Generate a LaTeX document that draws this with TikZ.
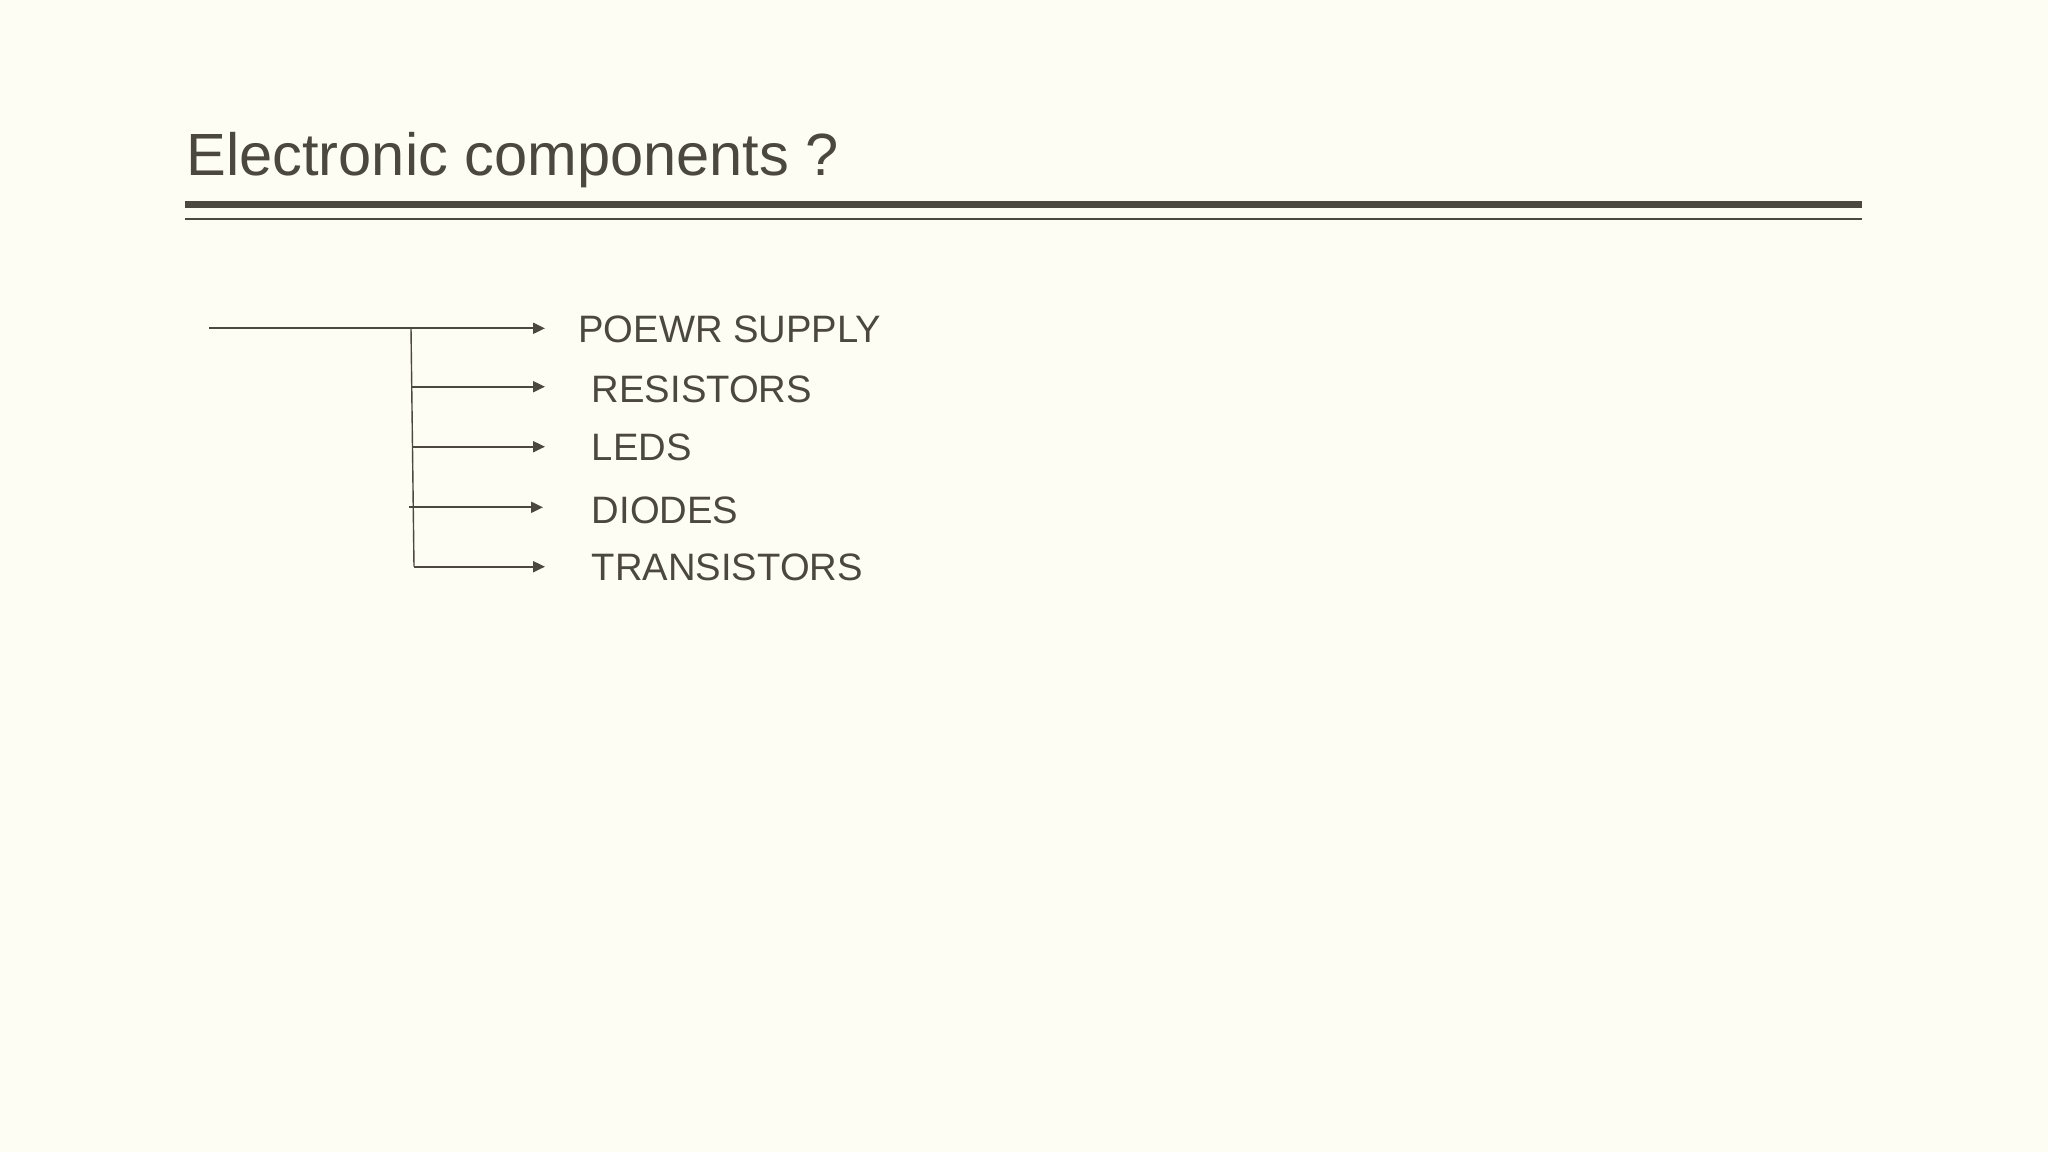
\documentclass[tikz,border=0pt]{standalone}
\usepackage{fontspec}
\setmainfont{Liberation Sans}
\usetikzlibrary{arrows.meta}
\definecolor{bgc}{RGB}{254,253,244}
\definecolor{ink}{RGB}{75,72,64}
\begin{document}
\begin{tikzpicture}[x=0.5pt,y=-0.5pt,
  item/.style={anchor=base west,inner sep=0pt,text=ink,font=\fontsize{19.1pt}{23pt}\selectfont},
  branch/.style={draw=ink,line width=1pt,-{Triangle[length=6pt,width=5.5pt]}},
  trunk/.style={draw=ink,line width=0.7pt}]
\fill[bgc] (0,0) rectangle (2048,1152);
\useasboundingbox (0,0) rectangle (2048,1152);
% title
\node[anchor=base west,inner sep=0pt,text=ink,font=\fontsize{29.8pt}{34pt}\selectfont] (title) at (186,175.5) {Electronic components ?};
\fill[ink] (185,201) rectangle (1862,208);
\fill[ink] (185,217.5) rectangle (1862,219.5);
% items
\node[item] (ps) at (578,342.3) {POEWR SUPPLY};
\node[item] (res) at (591.5,402.3) {RESISTORS};
\node[item] (led) at (591.5,460) {LEDS};
\node[item] (dio) at (591.5,523.3) {DIODES};
\node[item] (tra) at (591.5,580) {TRANSISTORS};
% connectors
\coordinate (start) at (209,328.3);
\coordinate (top) at (411,328.3);
\coordinate (bot) at (414,566.7);
\coordinate (b1) at (411,386.7);
\coordinate (b2) at (412,446.7);
\coordinate (b3) at (409,507.3);
\coordinate (b4) at (414,566.7);
\coordinate (t0) at (545,328.3);
\coordinate (t1) at (545,386.7);
\coordinate (t2) at (545,446.7);
\coordinate (t3) at (543,507.3);
\coordinate (t4) at (545,566.7);
\draw[trunk] (top) -- (bot);
\draw[branch] (start) -- (t0);
\draw[branch] (b1) -- (t1);
\draw[branch] (b2) -- (t2);
\draw[branch] (b3) -- (t3);
\draw[branch] (b4) -- (t4);
\end{tikzpicture}
\end{document}
